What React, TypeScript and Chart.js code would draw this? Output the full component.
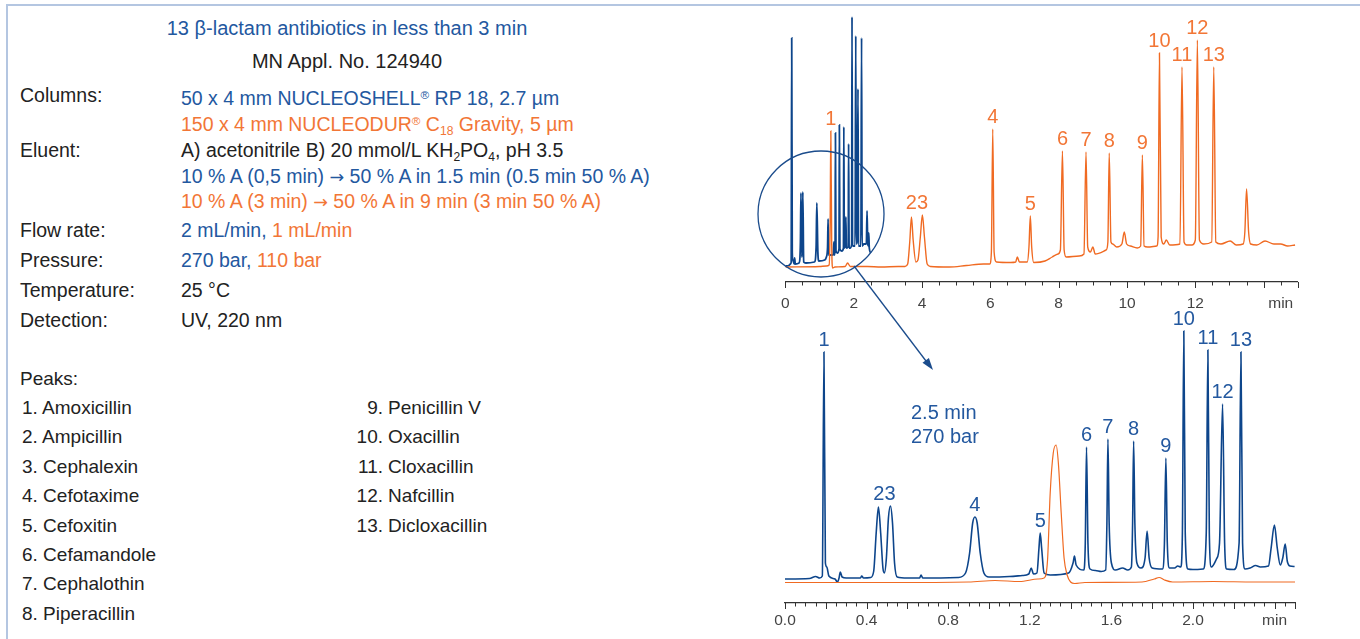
import React, { useEffect, useRef } from 'react';
import { Chart, registerables } from 'chart.js';

Chart.register(...registerables);

const BLUE_LINE = '#0d458b';
const ORANGE_LINE = '#f06a22';
const BLUE_TEXT = '#23589f';
const ORANGE_TEXT = '#f27636';
const DARK = '#222222';
const FONT = '"Liberation Sans", Arial, Helvetica, sans-serif';

// ---- 150 mm column (orange), full run, time [min] / signal ----
const orangeTop: [number, number][] = [
  [0, 15], [1.0, 15.5], [1.2, 16], [1.28, 17], [1.31, 60], [1.33, 151], [1.355, 40], [1.38, 14], [1.45, 15],
  [1.75, 15.5], [1.82, 19], [1.9, 15.5], [2.4, 15.5], [2.8, 15], [3.3, 15.5], [3.5, 15.5], [3.58, 18],
  [3.64, 40], [3.69, 65], [3.74, 42], [3.82, 20], [3.88, 22], [3.95, 45], [4.01, 67], [4.07, 45], [4.15, 18],
  [4.25, 15.5], [4.8, 15], [5.3, 16.5], [5.8, 18], [5.98, 18], [6.03, 30], [6.07, 153], [6.11, 30], [6.18, 20],
  [6.6, 19.5], [6.74, 20], [6.79, 25], [6.85, 20], [7.08, 20], [7.13, 35], [7.17, 66], [7.21, 35], [7.27, 19.5],
  [7.6, 21], [7.81, 25], [7.98, 28], [8.05, 32], [8.11, 131], [8.16, 32], [8.22, 25], [8.6, 26], [8.74, 28],
  [8.8, 130], [8.85, 35], [8.93, 30], [9.0, 35], [9.07, 28], [9.39, 32], [9.44, 40], [9.48, 129], [9.53, 40],
  [9.58, 38], [9.7, 35], [9.85, 38], [9.92, 50], [9.99, 38], [10.1, 36], [10.3, 34], [10.4, 36], [10.45, 127],
  [10.5, 36], [10.6, 35], [10.87, 36], [10.91, 45], [10.95, 229], [11.0, 45], [11.08, 38], [11.15, 42],
  [11.25, 37], [11.55, 38], [11.61, 215], [11.67, 40], [11.75, 37], [11.9, 37], [12.0, 42], [12.06, 242],
  [12.12, 42], [12.25, 38], [12.48, 40], [12.54, 215], [12.6, 40], [12.75, 38], [13.02, 41], [13.2, 37],
  [13.4, 38], [13.45, 50], [13.5, 93], [13.56, 50], [13.62, 38], [13.8, 37], [14.04, 41], [14.3, 38],
  [14.5, 38], [14.7, 36], [14.92, 37],
];

// ---- 50 mm column (blue), overview trace in the upper chart ----
const blueTop: [number, number][] = [
  [0, 16], [0.1, 16.5], [0.15, 18], [0.17, 20], [0.185, 244], [0.2, 30], [0.22, 22], [0.26, 18], [0.27, 24],
  [0.29, 18], [0.4, 19], [0.44, 40], [0.455, 89], [0.48, 25], [0.495, 40], [0.51, 90], [0.535, 20], [0.6, 19],
  [0.85, 20], [0.9, 35], [0.92, 79], [0.95, 30], [0.98, 21], [1.15, 22], [1.2, 25], [1.235, 35], [1.25, 63],
  [1.265, 27], [1.4, 27], [1.42, 40], [1.435, 27], [1.455, 33], [1.465, 149], [1.48, 31], [1.52, 29],
  [1.57, 33], [1.58, 157], [1.595, 33], [1.65, 31], [1.7, 34], [1.71, 155], [1.725, 34], [1.76, 36],
  [1.77, 65], [1.785, 34], [1.84, 35], [1.85, 138], [1.865, 34], [1.9, 34], [1.94, 38], [1.95, 265],
  [1.965, 36], [2.04, 36], [2.06, 246], [2.075, 38], [2.1, 40], [2.125, 193], [2.14, 36], [2.21, 36],
  [2.23, 244], [2.245, 36], [2.3, 38], [2.37, 38], [2.39, 71], [2.41, 38], [2.43, 36], [2.44, 49],
  [2.455, 34], [2.5, 29],
];

// ---- lower chart: 50 mm column (blue) ----
const blueBottom: [number, number][] = [
  [0, 24], [0.12, 24.5], [0.15, 26.5], [0.17, 25], [0.183, 27], [0.191, 251], [0.198, 40], [0.205, 36],
  [0.215, 27], [0.245, 24], [0.257, 21], [0.265, 25], [0.271, 31], [0.28, 26], [0.3, 25], [0.37, 25],
  [0.376, 27], [0.385, 25], [0.42, 25.5], [0.435, 32], [0.447, 70], [0.458, 96], [0.469, 70], [0.48, 35],
  [0.487, 30], [0.497, 45], [0.507, 85], [0.517, 97], [0.527, 80], [0.537, 40], [0.55, 26], [0.6, 25],
  [0.66, 25], [0.667, 28], [0.675, 25], [0.85, 25.5], [0.885, 30], [0.905, 50], [0.92, 80], [0.931, 86],
  [0.942, 80], [0.957, 50], [0.975, 30], [1.0, 26], [1.1, 26.5], [1.163, 27.5], [1.195, 29], [1.207, 35],
  [1.218, 29], [1.235, 30], [1.245, 55], [1.251, 70], [1.258, 55], [1.27, 30], [1.3, 28], [1.39, 30],
  [1.412, 40], [1.419, 47], [1.427, 38], [1.465, 33], [1.472, 60], [1.478, 156], [1.485, 60], [1.495, 34],
  [1.522, 32.5], [1.55, 31.5], [1.572, 33], [1.578, 80], [1.583, 164], [1.589, 80], [1.6, 40], [1.62, 33],
  [1.655, 35], [1.68, 33], [1.698, 36], [1.704, 80], [1.709, 162], [1.715, 80], [1.725, 40], [1.745, 35],
  [1.765, 45], [1.775, 72], [1.785, 45], [1.8, 35], [1.85, 34], [1.86, 60], [1.867, 145], [1.874, 60],
  [1.885, 35], [1.91, 35], [1.925, 37], [1.94, 36], [1.948, 70], [1.955, 272], [1.962, 70], [1.975, 34],
  [2.0, 33.5], [2.05, 34], [2.065, 70], [2.073, 253], [2.08, 70], [2.09, 36], [2.115, 44], [2.13, 60],
  [2.145, 199], [2.155, 60], [2.165, 34], [2.2, 33.5], [2.226, 60], [2.235, 251], [2.243, 60], [2.255, 34],
  [2.28, 35], [2.307, 37.5], [2.33, 36], [2.37, 37], [2.383, 55], [2.399, 78], [2.413, 55], [2.428, 38],
  [2.44, 45], [2.452, 59], [2.462, 42], [2.475, 37], [2.498, 36.5],
];

// ---- lower chart: 150 mm column (orange), first 2.5 min ----
const orangeBottom: [number, number][] = [
  [0, 20.5], [0.5, 20.5], [0.9, 21], [1.03, 22.5], [1.15, 21.5], [1.24, 24], [1.27, 25], [1.287, 43],
  [1.3, 110], [1.315, 150], [1.329, 158], [1.34, 140], [1.354, 90], [1.368, 45], [1.383, 28], [1.4, 21],
  [1.42, 19.5], [1.47, 20.5], [1.75, 21], [1.81, 24], [1.834, 25.5], [1.86, 23], [1.9, 21], [2.1, 21.5],
  [2.3, 21], [2.5, 21],
];

const orangeTopPeakLabels: [string, number][] = [
  ['1', 1.33], ['23', 3.85], ['4', 6.07], ['5', 7.17], ['6', 8.11], ['7', 8.8], ['8', 9.48], ['9', 10.45],
  ['10', 10.95], ['11', 11.61], ['12', 12.06], ['13', 12.54],
];
const blueBottomPeakLabels: [string, number][] = [
  ['1', 0.191], ['23', 0.4875], ['4', 0.931], ['5', 1.251], ['6', 1.478], ['7', 1.583], ['8', 1.709],
  ['9', 1.867], ['10', 1.955], ['11', 2.073], ['12', 2.145], ['13', 2.235],
];

const topTickLabels = [0, 2, 4, 6, 8, 10, 12];
const bottomTickLabels = [0, 0.4, 0.8, 1.2, 1.6, 2.0];
const unitLabel = 'min';
const topUnitAt = 14.5;
const bottomUnitAt = 2.4;

const peakNames = [
  'Amoxicillin', 'Ampicillin', 'Cephalexin', 'Cefotaxime', 'Cefoxitin', 'Cefamandole', 'Cephalothin',
  'Piperacillin', 'Penicillin V', 'Oxacillin', 'Cloxacillin', 'Nafcillin', 'Dicloxacillin',
];

const near = (a: number, b: number) => Math.abs(a - b) < 1e-6;

function peakLabelPlugin(id: string, dsIndex: number, labels: [string, number][], win: number, color: string) {
  return {
    id,
    afterDatasetsDraw(chart: any) {
      const ctx = chart.ctx;
      const xs = chart.scales.x;
      const ys = chart.scales.y;
      const data = chart.data.datasets[dsIndex].data as { x: number; y: number }[];
      ctx.save();
      ctx.font = `20px ${FONT}`;
      ctx.fillStyle = color;
      ctx.textAlign = 'center';
      ctx.textBaseline = 'alphabetic';
      labels.forEach(([text, t]) => {
        let maxY = -Infinity;
        data.forEach((p) => {
          if (Math.abs(p.x - t) <= win && p.y > maxY) maxY = p.y;
        });
        ctx.fillText(text, xs.getPixelForValue(t), ys.getPixelForValue(maxY) - 6);
      });
      ctx.restore();
    },
  };
}

function tickMarkPlugin(id: string, isMajor: (v: number) => boolean) {
  return {
    id,
    afterDraw(chart: any) {
      const ctx = chart.ctx;
      const xs = chart.scales.x;
      const y0 = chart.chartArea.bottom;
      ctx.save();
      ctx.strokeStyle = '#333';
      ctx.lineWidth = 1;
      xs.ticks.forEach((tk: any) => {
        const px = Math.round(xs.getPixelForValue(tk.value)) + 0.5;
        const len = isMajor(tk.value) ? 6 : 3.5;
        ctx.beginPath();
        ctx.moveTo(px, y0);
        ctx.lineTo(px, y0 + len);
        ctx.stroke();
      });
      ctx.restore();
    },
  };
}

const toXY = (arr: [number, number][]) => arr.map(([x, y]) => ({ x, y }));

function makeChart(
  canvas: HTMLCanvasElement,
  datasets: any[],
  xMax: number,
  yMax: number,
  step: number,
  padding: any,
  axisHeight: number,
  tickPad: number,
  label: (v: number) => string,
  plugins: any[]
) {
  return new Chart(canvas, {
    type: 'line',
    data: { datasets },
    options: {
      animation: false,
      responsive: false,
      maintainAspectRatio: false,
      events: [],
      layout: { padding },
      plugins: { legend: { display: false }, tooltip: { enabled: false } },
      elements: { point: { radius: 0 } },
      scales: {
        x: {
          type: 'linear',
          min: 0,
          max: xMax,
          afterFit: (s: any) => {
            s.height = axisHeight;
          },
          grid: { display: false },
          border: { display: true, color: '#333', width: 1.2 },
          ticks: {
            stepSize: step,
            autoSkip: false,
            maxRotation: 0,
            padding: tickPad,
            color: '#444',
            font: { size: 15.5, family: FONT },
            callback: (v: any) => label(Number(v)),
          },
        },
        y: { display: false, min: 0, max: yMax },
      },
    } as any,
    plugins,
  });
}

export default function App() {
  const topRef = useRef<HTMLCanvasElement>(null);
  const botRef = useRef<HTMLCanvasElement>(null);

  useEffect(() => {
    const lineDs = (d: [number, number][], color: string, w: number) => ({
      data: toXY(d),
      borderColor: color,
      borderWidth: w,
      pointRadius: 0,
      fill: false,
      cubicInterpolationMode: 'monotone',
    });
    const top = makeChart(
      topRef.current!,
      [lineDs(orangeTop, ORANGE_LINE, 1.4), lineDs(blueTop, BLUE_LINE, 1.8)],
      15,
      270,
      0.5,
      { left: 25.4, right: 42.2, top: 12, bottom: 0 },
      38,
      4,
      (v) => {
        if (near(v, topUnitAt)) return unitLabel;
        return topTickLabels.some((t) => near(t, v)) ? String(Math.round(v)) : '';
      },
      [
        peakLabelPlugin('plTop', 0, orangeTopPeakLabels, 0.2, ORANGE_TEXT),
        tickMarkPlugin('tkTop', (v) => near(v / 2, Math.round(v / 2)) || near(v, 15)),
      ]
    );
    const bottom = makeChart(
      botRef.current!,
      [lineDs(orangeBottom, ORANGE_LINE, 1.2), lineDs(blueBottom, BLUE_LINE, 1.6)],
      2.5,
      285,
      0.05,
      { left: 25, right: 45, top: 8, bottom: 0 },
      36,
      0,
      (v) => {
        if (near(v, bottomUnitAt)) return unitLabel;
        return bottomTickLabels.some((t) => near(t, v)) ? v.toFixed(1) : '';
      },
      [
        peakLabelPlugin('plBot', 1, blueBottomPeakLabels, 0.035, BLUE_TEXT),
        tickMarkPlugin('tkBot', (v) => near(v * 5, Math.round(v * 5)) || near(v, 2.5)),
      ]
    );
    return () => {
      top.destroy();
      bottom.destroy();
    };
  }, []);

  const row = (y: number, x: number, content: React.ReactNode, color = DARK, size = 19.5) => (
    <div
      style={{
        position: 'absolute',
        left: x,
        top: y - 12,
        lineHeight: '24px',
        fontSize: size,
        color,
        whiteSpace: 'nowrap',
      }}
    >
      {content}
    </div>
  );
  const centered = (y: number, cx: number, content: React.ReactNode, color = DARK) => (
    <div
      style={{
        position: 'absolute',
        left: cx - 300,
        width: 600,
        textAlign: 'center',
        top: y - 12,
        lineHeight: '24px',
        fontSize: 20,
        color,
        whiteSpace: 'nowrap',
      }}
    >
      {content}
    </div>
  );
  const sup = (s: string) => <span style={{ fontSize: '0.6em', verticalAlign: '0.55em' }}>{s}</span>;
  const sub = (s: string) => <span style={{ fontSize: '0.62em', verticalAlign: '-0.3em' }}>{s}</span>;
  const arrow = <span style={{ fontFamily: '"DejaVu Sans", sans-serif', fontSize: '0.9em' }}>→</span>;

  const LX = 20;
  const VX = 181;
  const LIST = 19;

  return (
    <div
      style={{
        position: 'absolute',
        left: 0,
        top: 0,
        width: 1360,
        height: 639,
        background: '#fff',
        overflow: 'hidden',
        fontFamily: FONT,
      }}
    >
      <div
        style={{
          position: 'absolute',
          left: 6,
          top: 4,
          width: 1360,
          height: 700,
          borderTop: '2px solid #b4c6e1',
          borderLeft: '2px solid #b4c6e1',
        }}
      />
      {centered(28, 347, <>13 β-lactam antibiotics in less than 3 min</>, BLUE_TEXT)}
      {centered(61, 347, <>MN Appl. No. 124940</>)}
      {row(95, LX, 'Columns:')}
      {row(95, VX, <>50 x 4 mm NUCLEOSHELL{sup('®')} RP 18, 2.7 µm</>, BLUE_TEXT)}
      {row(121, VX, <>150 x 4 mm NUCLEODUR{sup('®')} C{sub('18')} Gravity, 5 µm</>, ORANGE_TEXT)}
      {row(150, LX, 'Eluent:')}
      {row(150, VX, <>A) acetonitrile B) 20 mmol/L KH{sub('2')}PO{sub('4')}, pH 3.5</>)}
      {row(176, VX, <>10 % A (0,5 min) {arrow} 50 % A in 1.5 min (0.5 min 50 % A)</>, BLUE_TEXT)}
      {row(201, VX, <>10 % A (3 min) {arrow} 50 % A in 9 min (3 min 50 % A)</>, ORANGE_TEXT)}
      {row(230, LX, 'Flow rate:')}
      {row(230, VX, <><span style={{ color: BLUE_TEXT }}>2 mL/min,</span> <span style={{ color: ORANGE_TEXT }}>1 mL/min</span></>)}
      {row(260, LX, 'Pressure:')}
      {row(260, VX, <><span style={{ color: BLUE_TEXT }}>270 bar,</span> <span style={{ color: ORANGE_TEXT }}>110 bar</span></>)}
      {row(290, LX, 'Temperature:')}
      {row(290, VX, '25 °C')}
      {row(320, LX, 'Detection:')}
      {row(320, VX, 'UV, 220 nm')}
      {row(379, LX, 'Peaks:', DARK, LIST)}
      {peakNames.map((name, i) => {
        if (i < 8)
          return <React.Fragment key={name}>{row(408 + i * 29.4, 22, `${i + 1}. ${name}`, DARK, LIST)}</React.Fragment>;
        const y = 408 + (i - 8) * 29.4;
        return (
          <React.Fragment key={name}>
            <div
              style={{
                position: 'absolute',
                left: 330,
                width: 53,
                textAlign: 'right',
                top: y - 12,
                lineHeight: '24px',
                fontSize: LIST,
                color: DARK,
              }}
            >
              {`${i + 1}.`}
            </div>
            {row(y, 388, name, DARK, LIST)}
          </React.Fragment>
        );
      })}

      <canvas
        ref={topRef}
        width={580}
        height={320}
        style={{ position: 'absolute', left: 760, top: 0, width: 580, height: 320 }}
      />
      <canvas
        ref={botRef}
        width={580}
        height={329}
        style={{ position: 'absolute', left: 760, top: 310, width: 580, height: 329 }}
      />
      {row(411.5, 911, '2.5 min', BLUE_TEXT, 20)}
      {row(435.5, 911, '270 bar', BLUE_TEXT, 20)}
      <svg
        width={1360}
        height={639}
        style={{ position: 'absolute', left: 0, top: 0, pointerEvents: 'none' }}
      >
        <circle cx={821} cy={214} r={63} fill="none" stroke="#1b4c8c" strokeWidth={1.3} />
        <line x1={854} y1={266} x2={926} y2={361} stroke="#1b4c8c" strokeWidth={1.3} />
        <polygon points="933,370 922.5,362.8 928.9,358" fill="#1b4c8c" />
      </svg>
    </div>
  );
}
